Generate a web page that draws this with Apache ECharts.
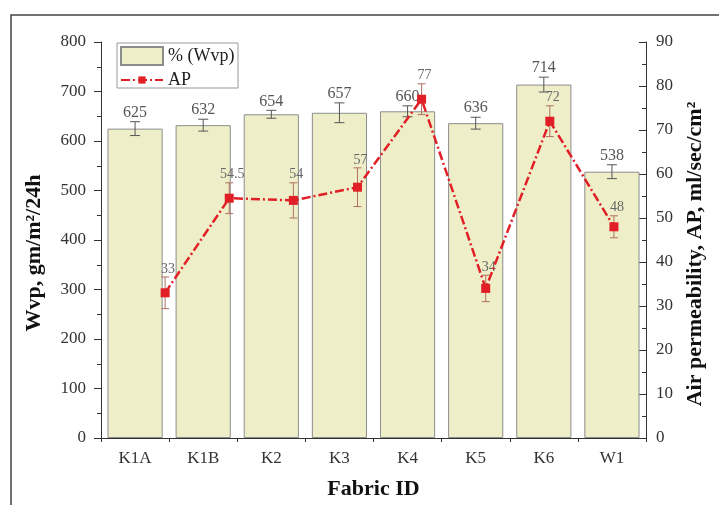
<!DOCTYPE html>
<html>
<head>
<meta charset="utf-8">
<script src="https://cdn.jsdelivr.net/npm/echarts@6/dist/echarts.min.js"></script>
<style>
html,body{margin:0;padding:0;background:#fff;}
#chart{width:719px;height:505px;}
</style>
</head>
<body>
<div id="chart"></div>
<script>
const categories = ['K1A', 'K1B', 'K2', 'K3', 'K4', 'K5', 'K6', 'W1'];
const wvpValues = [625, 632, 654, 657, 660, 636, 714, 538];
const wvpErrors = [14, 12, 8, 20, 11, 12, 15, 14];
const apValues = [33, 54.5, 54, 57, 77, 34, 72, 48];
const apErrors = [3.6, 3.5, 4, 4.4, 3.5, 3, 3.5, 2.5];
const leftTicks = { min: 0, max: 800, interval: 100 };
const rightTicks = { min: 0, max: 90, interval: 10 };

const serif = '"Liberation Serif", "Times New Roman", serif';
const chart = echarts.init(document.getElementById('chart'), null, { renderer: 'canvas' });

const wvpErrData = categories.map((c, i) => [i, wvpValues[i] - wvpErrors[i], wvpValues[i] + wvpErrors[i], wvpValues[i]]);
const apLineData = categories.map((c, i) => [i, apValues[i]]);
const apErrData = categories.map((c, i) => [i, apValues[i] - apErrors[i], apValues[i] + apErrors[i], apValues[i]]);

function errRenderer(color, capHalf, labelFont, labelColor, dx) {
  return function (params, api) {
    const x = api.value(0);
    const pLo = api.coord([x, api.value(1)]);
    const pHi = api.coord([x, api.value(2)]);
    return {
      type: 'group',
      children: [
        { type: 'line', shape: { x1: pLo[0], y1: pLo[1], x2: pHi[0], y2: pHi[1] }, style: { stroke: color, lineWidth: 1 } },
        { type: 'line', shape: { x1: pLo[0] - capHalf, y1: pLo[1], x2: pLo[0] + capHalf, y2: pLo[1] }, style: { stroke: color, lineWidth: 1 } },
        { type: 'line', shape: { x1: pHi[0] - capHalf, y1: pHi[1], x2: pHi[0] + capHalf, y2: pHi[1] }, style: { stroke: color, lineWidth: 1 } },
        { type: 'text', z2: 50, style: { text: String(api.value(3)), x: pHi[0] + dx, y: pHi[1] - 1, align: 'center', verticalAlign: 'bottom', font: labelFont, fill: labelColor } }
      ]
    };
  };
}

const option = {
  backgroundColor: '#ffffff',
  animation: false,
  grid: { left: 101, right: 73, top: 42, bottom: 65, containLabel: false },
  graphic: [
    { type: 'rect', shape: { x: 11, y: 15, width: 800, height: 600 }, style: { fill: 'none', stroke: '#444', lineWidth: 1.5 }, z: -1 },
    { type: 'rect', shape: { x: 117, y: 43, width: 121, height: 45 }, style: { fill: '#fff', stroke: '#999', lineWidth: 1 }, z: 5 }
  ],
  legend: [
    {
      data: [{ name: '% (Wvp)', icon: 'rect' }], left: 120, top: 46, itemWidth: 42, itemHeight: 18, padding: 0, z: 10,
      textStyle: { fontFamily: serif, fontSize: 18, color: '#222' }
    },
    {
      data: ['AP'], left: 120, top: 71, itemWidth: 42, itemHeight: 9, padding: 0, z: 10,
      textStyle: { fontFamily: serif, fontSize: 18, color: '#222' }
    }
  ],
  xAxis: [
    {
      type: 'category', data: categories, gridIndex: 0,
      name: 'Fabric ID', nameLocation: 'middle', nameGap: 40,
      nameTextStyle: { fontFamily: serif, fontSize: 22, fontWeight: 'bold', color: '#111' },
      axisLine: { onZero: false, lineStyle: { color: '#333', width: 1 } },
      axisTick: { alignWithLabel: true, length: 7, lineStyle: { color: '#333' } },
      axisLabel: { fontFamily: serif, fontSize: 17, color: '#333', margin: 12 },
      splitLine: { show: false }
    },
    {
      type: 'value', min: -1, max: 7.5, show: false, gridIndex: 0
    },
    {
      type: 'category', data: categories, gridIndex: 0, position: 'bottom',
      axisLine: { show: false, onZero: false },
      axisTick: { show: true, length: 4, lineStyle: { color: '#333' } },
      axisLabel: { show: false }, splitLine: { show: false }
    }
  ],
  yAxis: [
    {
      type: 'value', min: leftTicks.min, max: leftTicks.max, interval: leftTicks.interval, position: 'left',
      name: 'Wvp, gm/m²/24h', nameLocation: 'middle', nameRotate: 90, nameGap: 56,
      nameTextStyle: { fontFamily: serif, fontSize: 22, fontWeight: 'bold', color: '#111', padding: [0, 26, 0, 0] },
      axisLine: { show: true, onZero: false, lineStyle: { color: '#333', width: 1 } },
      axisTick: { show: true, length: 7, lineStyle: { color: '#333' } },
      minorTick: { show: true, splitNumber: 2, length: 4, lineStyle: { color: '#333' } },
      axisLabel: { fontFamily: serif, fontSize: 17, color: '#333', margin: 15 },
      splitLine: { show: false }
    },
    {
      type: 'value', min: rightTicks.min, max: rightTicks.max, interval: rightTicks.interval, position: 'right',
      name: 'Air permeability, AP, ml/sec/cm²', nameLocation: 'middle', nameRotate: 90, nameGap: 49,
      nameTextStyle: { fontFamily: serif, fontSize: 22, fontWeight: 'bold', color: '#111', padding: [0, 28, 0, 0], verticalAlign: 'bottom' },
      axisLine: { show: true, onZero: false, lineStyle: { color: '#333', width: 1 } },
      axisTick: { show: true, inside: true, length: 7, lineStyle: { color: '#333' } },
      minorTick: { show: true, splitNumber: 2, length: 4, lineStyle: { color: '#333' } },
      axisLabel: { fontFamily: serif, fontSize: 17, color: '#333', margin: 10 },
      splitLine: { show: false }
    }
  ],
  series: [
    {
      name: '% (Wvp)', type: 'bar', xAxisIndex: 0, yAxisIndex: 0, data: wvpValues, barWidth: '81%',
      itemStyle: { color: '#eeefc8', borderColor: '#8c8c8c', borderWidth: 1 }, z: 2
    },
    {
      name: 'wvpErr', type: 'custom', xAxisIndex: 0, yAxisIndex: 0, data: wvpErrData, z: 3,
      renderItem: errRenderer('#555', 5, '16px ' + serif, '#555', 0)
    },
    {
      name: 'apErr', type: 'custom', xAxisIndex: 1, yAxisIndex: 1, data: apErrData, z: 4,
      renderItem: errRenderer('#b0705e', 4, '14px ' + serif, '#666', 3)
    },
    {
      name: 'AP', type: 'line', xAxisIndex: 1, yAxisIndex: 1, data: apLineData, z: 5,
      symbol: 'rect', symbolSize: 9,
      itemStyle: { color: '#e01f26' },
      lineStyle: { color: '#e01f26', width: 2.5, type: [9, 3, 2, 3] }
    }
  ]
};
chart.setOption(option);
</script>
</body>
</html>
